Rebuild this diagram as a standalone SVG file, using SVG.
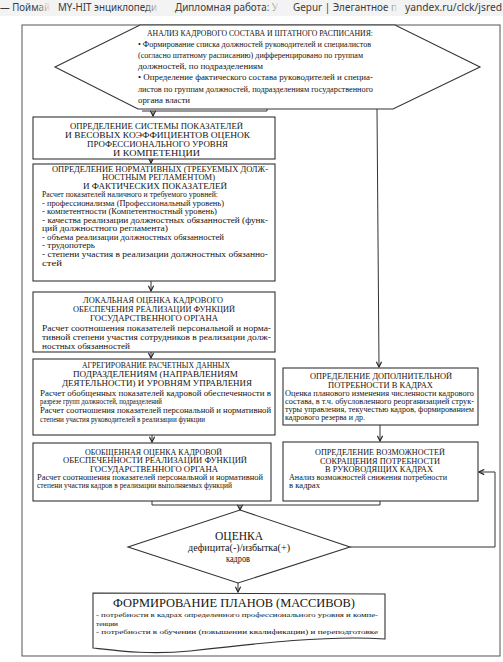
<svg xmlns="http://www.w3.org/2000/svg" width="503" height="662" viewBox="0 0 503 662">
<defs>
<style>
.bar{font-family:"Noto Sans","Open Sans",sans-serif;font-size:10px;fill:#3a3a3a}
.box{fill:#fff;stroke:#333;stroke-width:1.1}
.ln{fill:none;stroke:#333;stroke-width:1}
text{font-family:"Liberation Serif","Times New Roman",serif;fill:#141414}
.t{font-size:8.3px}
.b{font-size:8px}
.s{font-size:7.3px}
</style>
<marker id="arr" viewBox="0 0 8 8" refX="7" refY="4" markerWidth="7" markerHeight="7" markerUnits="userSpaceOnUse" orient="auto">
<path d="M1,1 L7,4 L1,7" fill="none" stroke="#222" stroke-width="1.3"/>
</marker>
<linearGradient id="fade" x1="0" x2="1" y1="0" y2="0">
<stop offset="0" stop-color="#f3f3f3" stop-opacity="0"/>
<stop offset="1" stop-color="#f3f3f3" stop-opacity="1"/>
</linearGradient>
</defs>
<rect x="0" y="0" width="503" height="662" fill="#fff"/>
<g id="browser-bar">
<rect x="0" y="0" width="503" height="16" fill="#f3f3f3"/>
<text class="bar" x="0" y="11" textLength="50" lengthAdjust="spacingAndGlyphs">— Поймай</text>
<text class="bar" x="58" y="11" textLength="99" lengthAdjust="spacingAndGlyphs">MY-HIT энциклопеди</text>
<text class="bar" x="175" y="11" textLength="103" lengthAdjust="spacingAndGlyphs">Дипломная работа: У</text>
<text class="bar" x="293" y="11" textLength="104" lengthAdjust="spacingAndGlyphs">Gepur | Элегантное п</text>
<text class="bar" x="405" y="11" textLength="97" lengthAdjust="spacingAndGlyphs">yandex.ru/clck/jsred</text>
<rect x="36" y="0" width="15" height="16" fill="url(#fade)"/>
<rect x="145" y="0" width="15" height="16" fill="url(#fade)"/>
<rect x="265" y="0" width="15" height="16" fill="url(#fade)"/>
<rect x="384" y="0" width="15" height="16" fill="url(#fade)"/>
</g>
<rect id="frame" x="22" y="25" width="478" height="631" fill="none" stroke="#555" stroke-width="1"/>

<g id="connectors">
<polyline class="ln" points="267,105 267,111 142,111"/>
<line class="ln" x1="153" y1="111" x2="153" y2="116" marker-end="url(#arr)"/>
<line class="ln" x1="377" y1="109" x2="379" y2="367" marker-end="url(#arr)"/>
<line class="ln" x1="151" y1="159" x2="151" y2="163" marker-end="url(#arr)"/>
<line class="ln" x1="151" y1="281" x2="151" y2="291" marker-end="url(#arr)"/>
<line class="ln" x1="151" y1="352" x2="151" y2="358" marker-end="url(#arr)"/>
<line class="ln" x1="152" y1="435" x2="152" y2="442" marker-end="url(#arr)"/>
<line class="ln" x1="380" y1="425" x2="380" y2="441" marker-end="url(#arr)"/>
<polyline class="ln" points="152,501 152,505 380,505 380,501"/>
<line class="ln" x1="240" y1="505" x2="240" y2="510" marker-end="url(#arr)"/>
<line class="ln" x1="238" y1="583" x2="238" y2="592" marker-end="url(#arr)"/>
<polyline class="ln" points="350,547 495,547 495,472 479,472" marker-end="url(#arr)"/>
</g>

<g id="analysis">
<polygon class="box" points="140,25 395,25 480,67 393,109 138,109 55,67"/>
<text x="147" y="35.6" font-size="7.8" textLength="226" lengthAdjust="spacingAndGlyphs">АНАЛИЗ КАДРОВОГО СОСТАВА И ШТАТНОГО РАСПИСАНИЯ:</text>
<text class="b" x="138" y="47" font-size="8.4" textLength="233" lengthAdjust="spacingAndGlyphs">• Формирование списка должностей руководителей и специалистов</text>
<text class="b" x="138" y="58.2" font-size="8.4" textLength="225" lengthAdjust="spacingAndGlyphs">(согласно штатному расписанию) дифференцировано по группам</text>
<text class="b" x="138" y="69.3" font-size="8.4" textLength="125" lengthAdjust="spacingAndGlyphs">должностей,  по подразделениям</text>
<text class="b" x="138" y="80.4" font-size="8.4" textLength="235" lengthAdjust="spacingAndGlyphs">• Определение фактического состава руководителей и специа-</text>
<text class="b" x="138" y="91.5" font-size="8.4" textLength="235" lengthAdjust="spacingAndGlyphs">листов по группам должностей, подразделениям государственного</text>
<text class="b" x="138" y="102.6" font-size="8.4" textLength="52" lengthAdjust="spacingAndGlyphs">органа власти</text>
</g>

<g id="indicators">
<rect class="box" x="33" y="117" width="242" height="42"/>
<text class="t" x="70" y="129.3" textLength="173" lengthAdjust="spacingAndGlyphs">ОПРЕДЕЛЕНИЕ СИСТЕМЫ ПОКАЗАТЕЛЕЙ</text>
<text class="t" x="65" y="138.1" textLength="185" lengthAdjust="spacingAndGlyphs">И ВЕСОВЫХ КОЭФФИЦИЕНТОВ ОЦЕНОК</text>
<text class="t" x="87" y="146.8" textLength="141" lengthAdjust="spacingAndGlyphs">ПРОФЕССИОНАЛЬНОГО УРОВНЯ</text>
<text class="t" x="113" y="155.5" textLength="87" lengthAdjust="spacingAndGlyphs">И КОМПЕТЕНЦИИ</text>
</g>

<g id="normative">
<rect class="box" x="33" y="164" width="242" height="117"/>
<text class="t" x="52" y="172" textLength="216" lengthAdjust="spacingAndGlyphs">ОПРЕДЕЛЕНИЕ НОРМАТИВНЫХ (ТРЕБУЕМЫХ ДОЛЖ-</text>
<text class="t" x="102" y="180.3" textLength="113" lengthAdjust="spacingAndGlyphs">НОСТНЫМ РЕГЛАМЕНТОМ)</text>
<text class="t" x="83" y="188.7" textLength="144" lengthAdjust="spacingAndGlyphs">И ФАКТИЧЕСКИХ ПОКАЗАТЕЛЕЙ</text>
<text class="b" x="42" y="196.8" textLength="176" lengthAdjust="spacingAndGlyphs">Расчет показателей наличного и требуемого уровней:</text>
<text class="b" x="42" y="205.6" textLength="182" lengthAdjust="spacingAndGlyphs">- профессионализма (Профессиональный уровень)</text>
<text class="b" x="42" y="214" textLength="175" lengthAdjust="spacingAndGlyphs">- компетентности (Компетентностный уровень)</text>
<text class="b" x="42" y="222.6" textLength="226" lengthAdjust="spacingAndGlyphs">- качества реализации должностных обязанностей (функ-</text>
<text class="b" x="42" y="231" textLength="126" lengthAdjust="spacingAndGlyphs">ций должностного регламента)</text>
<text class="b" x="42" y="239.5" textLength="182" lengthAdjust="spacingAndGlyphs">- объема реализации должностных обязанностей</text>
<text class="b" x="42" y="248.3" textLength="53" lengthAdjust="spacingAndGlyphs">- трудопотерь</text>
<text class="b" x="42" y="256.6" textLength="226" lengthAdjust="spacingAndGlyphs">- степени участия в реализации должностных обязанно-</text>
<text class="b" x="42" y="265.6" textLength="20" lengthAdjust="spacingAndGlyphs">стей</text>
</g>

<g id="local">
<rect class="box" x="33" y="292" width="242" height="60"/>
<text class="t" x="83" y="302.8" textLength="140" lengthAdjust="spacingAndGlyphs">ЛОКАЛЬНАЯ ОЦЕНКА КАДРОВОГО</text>
<text class="t" x="73" y="312.3" textLength="162" lengthAdjust="spacingAndGlyphs">ОБЕСПЕЧЕНИЯ РЕАЛИЗАЦИИ ФУНКЦИЙ</text>
<text class="t" x="90" y="321" textLength="128" lengthAdjust="spacingAndGlyphs">ГОСУДАРСТВЕННОГО ОРГАНА</text>
<text class="b" x="42" y="330.6" textLength="229" lengthAdjust="spacingAndGlyphs">Расчет соотношения показателей персональной и норма-</text>
<text class="b" x="42" y="339.8" textLength="229" lengthAdjust="spacingAndGlyphs">тивной степени участия сотрудников в реализации долж-</text>
<text class="b" x="42" y="348.6" textLength="88" lengthAdjust="spacingAndGlyphs">ностных обязанностей</text>
</g>

<g id="aggregation">
<rect class="box" x="33" y="359" width="242" height="76"/>
<text class="t" x="82" y="367.8" textLength="148" lengthAdjust="spacingAndGlyphs">АГРЕГИРОВАНИЕ РАСЧЕТНЫХ ДАННЫХ</text>
<text class="t" x="73" y="377" textLength="165" lengthAdjust="spacingAndGlyphs">ПОДРАЗДЕЛЕНИЯМ (НАПРАВЛЕНИЯМ</text>
<text class="t" x="62" y="386" textLength="190" lengthAdjust="spacingAndGlyphs">ДЕЯТЕЛЬНОСТИ) И УРОВНЯМ УПРАВЛЕНИЯ</text>
<text class="s" x="40" y="395.5" textLength="231" lengthAdjust="spacingAndGlyphs">Расчет обобщенных показателей кадровой обеспеченности в</text>
<text class="s" x="40" y="404" textLength="122" lengthAdjust="spacingAndGlyphs">разрезе групп должностей, подразделений</text>
<text class="s" x="40" y="413.2" textLength="231" lengthAdjust="spacingAndGlyphs">Расчет соотношения показателей персональной и нормативной</text>
<text class="s" x="40" y="422.2" textLength="165" lengthAdjust="spacingAndGlyphs">степени участия руководителей в реализации функции</text>
</g>

<g id="generalized">
<rect class="box" x="33" y="443" width="238" height="58"/>
<text class="t" x="85" y="454.5" textLength="137" lengthAdjust="spacingAndGlyphs">ОБОБЩЕННАЯ ОЦЕНКА КАДРОВОЙ</text>
<text class="t" x="63" y="462.8" textLength="184" lengthAdjust="spacingAndGlyphs">ОБЕСПЕЧЕННОСТИ РЕАЛИЗАЦИИ ФУНКЦИЙ</text>
<text class="t" x="90" y="472" textLength="128" lengthAdjust="spacingAndGlyphs">ГОСУДАРСТВЕННОГО ОРГАНА</text>
<text class="s" x="37" y="480" textLength="226" lengthAdjust="spacingAndGlyphs">Расчет соотношения показателей персональной и нормативной</text>
<text class="s" x="37" y="487.6" textLength="195" lengthAdjust="spacingAndGlyphs">степени участия кадров  в реализации выполняемых функций</text>
</g>

<g id="additional-need">
<rect class="box" x="283" y="368" width="195" height="57"/>
<text class="t" x="310" y="378.8" textLength="142" lengthAdjust="spacingAndGlyphs">ОПРЕДЕЛЕНИЕ ДОПОЛНИТЕЛЬНОЙ</text>
<text class="t" x="328" y="387.8" textLength="105" lengthAdjust="spacingAndGlyphs">ПОТРЕБНОСТИ В КАДРАХ</text>
<text class="s" x="285" y="395.6" textLength="189" lengthAdjust="spacingAndGlyphs">Оценка планового изменения численности кадрового</text>
<text class="s" x="285" y="404" textLength="189" lengthAdjust="spacingAndGlyphs">состава, в т.ч. обусловленного реорганизацией струк-</text>
<text class="s" x="285" y="411.8" textLength="189" lengthAdjust="spacingAndGlyphs">туры управления, текучестью кадров, формированием</text>
<text class="s" x="285" y="419.8" textLength="80" lengthAdjust="spacingAndGlyphs">кадрового резерва и др.</text>
</g>

<g id="reduction">
<rect class="box" x="283" y="442" width="195" height="59"/>
<text class="t" x="315" y="454.5" textLength="130" lengthAdjust="spacingAndGlyphs">ОПРЕДЕЛЕНИЕ ВОЗМОЖНОСТЕЙ</text>
<text class="t" x="320" y="463.5" textLength="120" lengthAdjust="spacingAndGlyphs">СОКРАЩЕНИЯ ПОТРЕБНОСТИ</text>
<text class="t" x="325" y="472.1" textLength="108" lengthAdjust="spacingAndGlyphs">В РУКОВОДЯЩИХ КАДРАХ</text>
<text class="b" x="289" y="479.8" textLength="158" lengthAdjust="spacingAndGlyphs">Анализ возможностей снижения потребности</text>
<text class="b" x="289" y="487.6" textLength="31" lengthAdjust="spacingAndGlyphs">в кадрах</text>
</g>

<g id="assessment">
<polygon class="box" points="240,510 350,547 238,583 128,547"/>
<text x="215" y="540" font-size="12" textLength="48" lengthAdjust="spacingAndGlyphs">ОЦЕНКА</text>
<text x="188" y="551" font-size="9.5" textLength="102" lengthAdjust="spacingAndGlyphs">дефицита(-)/избытка(+)</text>
<text x="226" y="561.5" font-size="9.5" textLength="24" lengthAdjust="spacingAndGlyphs">кадров</text>
</g>

<g id="plans">
<path class="box" d="M93,593 L385,594 L385,639 C330,635 260,643 190,651 C150,655 120,651 93,648 Z"/>
<text x="113" y="606.8" font-size="12.6" textLength="242" lengthAdjust="spacingAndGlyphs">ФОРМИРОВАНИЕ ПЛАНОВ (МАССИВОВ)</text>
<text x="96" y="617.3" font-size="6.8" textLength="282" lengthAdjust="spacingAndGlyphs">- потребности в кадрах определенного профессионального уровня и компе-</text>
<text x="96" y="625.5" font-size="6.8" textLength="22" lengthAdjust="spacingAndGlyphs">тенции</text>
<text x="96" y="633.7" font-size="6.8" textLength="282" lengthAdjust="spacingAndGlyphs">- потребности в обучении (повышении квалификации) и переподготовке</text>
</g>
</svg>
